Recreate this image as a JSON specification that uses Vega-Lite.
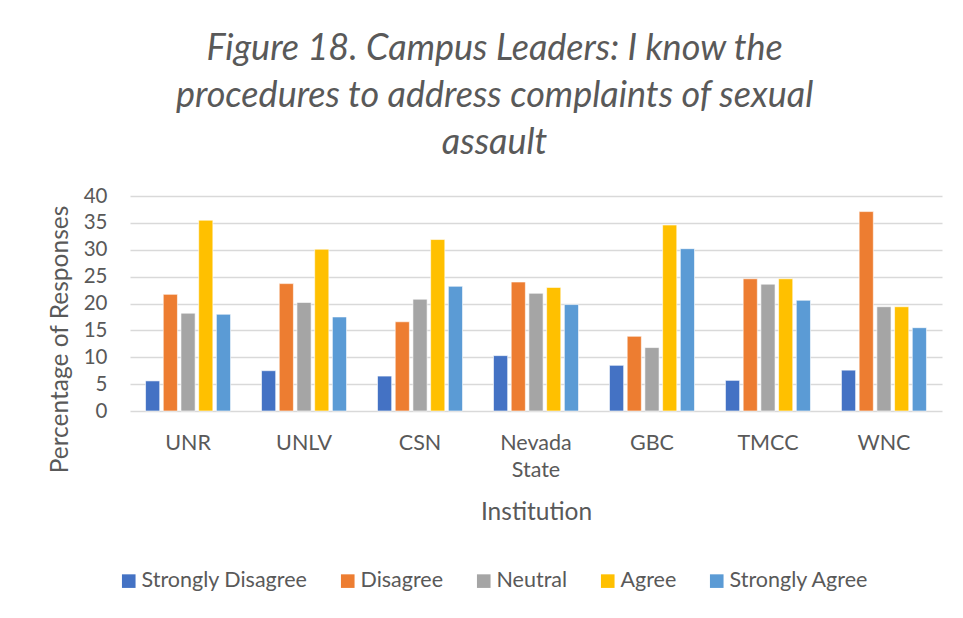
{
  "$schema": "https://vega.github.io/schema/vega-lite/v6.json",
  "width": 812,
  "height": 215,
  "autosize": {"type": "none"},
  "padding": {"left": 130, "top": 196, "right": 21, "bottom": 207},
  "background": "white",
  "title": {
    "text": ["Figure 18. Campus Leaders: I know the", "procedures to address complaints of sexual", "assault"],
    "fontStyle": "italic",
    "fontWeight": "normal",
    "fontSize": 36,
    "lineHeight": 47,
    "color": "#595959",
    "anchor": "middle",
    "frame": "bounds",
    "offset": 24
  },
  "data": {
    "values": [
      {"Institution": "UNR", "Response": "Strongly Disagree", "Percent": 5.6},
      {"Institution": "UNR", "Response": "Disagree", "Percent": 21.7},
      {"Institution": "UNR", "Response": "Neutral", "Percent": 18.2},
      {"Institution": "UNR", "Response": "Agree", "Percent": 35.5},
      {"Institution": "UNR", "Response": "Strongly Agree", "Percent": 18.0},
      {"Institution": "UNLV", "Response": "Strongly Disagree", "Percent": 7.5},
      {"Institution": "UNLV", "Response": "Disagree", "Percent": 23.7},
      {"Institution": "UNLV", "Response": "Neutral", "Percent": 20.2},
      {"Institution": "UNLV", "Response": "Agree", "Percent": 30.1},
      {"Institution": "UNLV", "Response": "Strongly Agree", "Percent": 17.5},
      {"Institution": "CSN", "Response": "Strongly Disagree", "Percent": 6.5},
      {"Institution": "CSN", "Response": "Disagree", "Percent": 16.6},
      {"Institution": "CSN", "Response": "Neutral", "Percent": 20.8},
      {"Institution": "CSN", "Response": "Agree", "Percent": 31.9},
      {"Institution": "CSN", "Response": "Strongly Agree", "Percent": 23.2},
      {"Institution": "Nevada State", "Response": "Strongly Disagree", "Percent": 10.3},
      {"Institution": "Nevada State", "Response": "Disagree", "Percent": 24.0},
      {"Institution": "Nevada State", "Response": "Neutral", "Percent": 21.9},
      {"Institution": "Nevada State", "Response": "Agree", "Percent": 23.0},
      {"Institution": "Nevada State", "Response": "Strongly Agree", "Percent": 19.8},
      {"Institution": "GBC", "Response": "Strongly Disagree", "Percent": 8.5},
      {"Institution": "GBC", "Response": "Disagree", "Percent": 13.9},
      {"Institution": "GBC", "Response": "Neutral", "Percent": 11.8},
      {"Institution": "GBC", "Response": "Agree", "Percent": 34.6},
      {"Institution": "GBC", "Response": "Strongly Agree", "Percent": 30.2},
      {"Institution": "TMCC", "Response": "Strongly Disagree", "Percent": 5.7},
      {"Institution": "TMCC", "Response": "Disagree", "Percent": 24.6},
      {"Institution": "TMCC", "Response": "Neutral", "Percent": 23.6},
      {"Institution": "TMCC", "Response": "Agree", "Percent": 24.6},
      {"Institution": "TMCC", "Response": "Strongly Agree", "Percent": 20.6},
      {"Institution": "WNC", "Response": "Strongly Disagree", "Percent": 7.6},
      {"Institution": "WNC", "Response": "Disagree", "Percent": 37.1},
      {"Institution": "WNC", "Response": "Neutral", "Percent": 19.4},
      {"Institution": "WNC", "Response": "Agree", "Percent": 19.4},
      {"Institution": "WNC", "Response": "Strongly Agree", "Percent": 15.5}
    ]
  },
  "mark": {"type": "bar", "stroke": "white", "strokeWidth": 0.6},
  "encoding": {
    "x": {
      "field": "Institution",
      "type": "nominal",
      "sort": ["UNR", "UNLV", "CSN", "Nevada State", "GBC", "TMCC", "WNC"],
      "scale": {"paddingInner": 0.267, "paddingOuter": 0.134},
      "axis": {
        "title": "Institution",
        "labelAngle": 0,
        "labelExpr": "datum.label == 'Nevada State' ? ['Nevada', 'State'] : datum.label",
        "labelFontSize": 21.5,
        "labelLineHeight": 27,
        "labelPadding": 21,
        "labelColor": "#595959",
        "titleFontSize": 24.5,
        "titleFontWeight": "normal",
        "titleColor": "#595959",
        "titlePadding": 20,
        "domain": false,
        "ticks": false
      }
    },
    "xOffset": {
      "field": "Response",
      "type": "nominal",
      "sort": ["Strongly Disagree", "Disagree", "Neutral", "Agree", "Strongly Agree"],
      "scale": {"paddingInner": 0.2, "paddingOuter": 0}
    },
    "y": {
      "field": "Percent",
      "type": "quantitative",
      "scale": {"domain": [0, 40], "nice": false},
      "axis": {
        "title": "Percentage of Responses",
        "titleY": 143,
        "values": [0, 5, 10, 15, 20, 25, 30, 35, 40],
        "labelFontSize": 20.5,
        "labelPadding": 23,
        "labelColor": "#595959",
        "titleFontSize": 24.5,
        "titleFontWeight": "normal",
        "titleColor": "#595959",
        "titlePadding": 11,
        "domain": false,
        "ticks": false,
        "gridColor": "#D9D9D9",
        "gridWidth": 1.6
      }
    },
    "color": {
      "field": "Response",
      "type": "nominal",
      "sort": ["Strongly Disagree", "Disagree", "Neutral", "Agree", "Strongly Agree"],
      "scale": {
        "domain": ["Strongly Disagree", "Disagree", "Neutral", "Agree", "Strongly Agree"],
        "range": ["#4472C4", "#ED7D31", "#A5A5A5", "#FFC000", "#5B9BD5"]
      },
      "legend": {
        "title": null,
        "orient": "none",
        "direction": "horizontal",
        "legendX": -12,
        "legendY": 374,
        "symbolType": "square",
        "symbolSize": 185,
        "symbolStrokeWidth": 0,
        "labelFontSize": 21.5,
        "labelColor": "#595959",
        "labelOffset": 2,
        "columnPadding": 29,
        "labelLimit": 300
      }
    }
  },
  "config": {
    "font": "Lato",
    "view": {"stroke": null}
  }
}
